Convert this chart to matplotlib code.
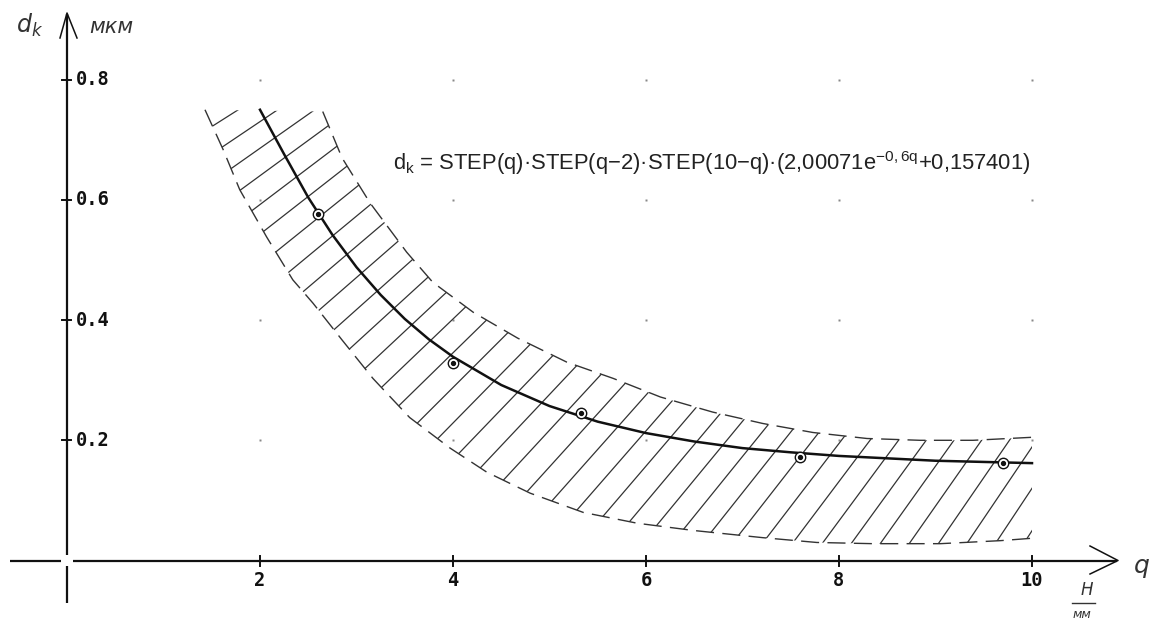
import numpy as np
import matplotlib
matplotlib.use("Agg")
import matplotlib.pyplot as plt
from matplotlib.collections import LineCollection
from matplotlib.patches import Polygon

# ---------------- data ----------------
q_fit = [2.0, 2.25, 2.5, 2.75, 3.0, 3.25, 3.5, 3.75, 4.0, 4.5, 5.0, 5.5,
         6.0, 6.5, 7.0, 7.5, 8.0, 8.5, 9.0, 9.5, 10.0]
d_fit = [0.750, 0.676, 0.604, 0.542, 0.488, 0.442, 0.402, 0.368, 0.339, 0.292,
         0.257, 0.231, 0.212, 0.198, 0.187, 0.180, 0.174, 0.170, 0.166, 0.164, 0.162]

q_obs = [2.6, 4.0, 5.33, 7.6, 9.7]
d_obs = [0.577, 0.328, 0.246, 0.172, 0.162]

q_upper = [2.65, 2.85, 3.14, 3.52, 3.79, 4.21, 4.67, 5.18, 5.66, 6.15, 6.69,
           7.21, 7.73, 8.29, 8.84, 9.39, 10.0]
d_upper = [0.747, 0.670, 0.595, 0.513, 0.463, 0.413, 0.370, 0.330, 0.303, 0.272,
           0.247, 0.228, 0.213, 0.203, 0.200, 0.200, 0.205]

q_lower = [1.43, 1.62, 1.79, 2.07, 2.34, 2.55, 2.85, 3.17, 3.55, 3.97, 4.35,
           4.80, 5.35, 5.91, 6.49, 7.21, 7.77, 8.35, 9.05, 9.67, 10.0]
d_lower = [0.750, 0.683, 0.617, 0.538, 0.467, 0.428, 0.367, 0.303, 0.238, 0.187,
           0.147, 0.112, 0.080, 0.062, 0.050, 0.038, 0.030, 0.028, 0.028, 0.033, 0.037]

x_ticks = [2, 4, 6, 8, 10]
x_tick_labels = ["2", "4", "6", "8", "10"]
y_ticks = [0.2, 0.4, 0.6, 0.8]
y_tick_labels = ["0.2", "0.4", "0.6", "0.8"]

equation = (r"d$_\mathregular{k}$ = STEP(q)·STEP(q−2)·STEP(10−q)·"
            r"(2,00071e$^{\mathregular{-0,6q}}$+0,157401)")

# ---------------- figure ----------------
W, H, DPI = 1149, 620, 100
fig = plt.figure(figsize=(W / DPI, H / DPI), dpi=DPI)
ax = fig.add_axes([0, 0, 1, 1])
ax.set_axis_off()

# pixel <-> data mapping chosen so that the axes fill the whole image
PX0, PXU = 67.0, 96.5      # x pixel of q=0, pixels per unit
PY0, PYU = 560.5, 601.0    # y pixel of d=0, pixels per unit
ax.set_xlim(-PX0 / PXU, (W - PX0) / PXU)
ax.set_ylim((PY0 - H) / PYU, PY0 / PYU)


def px(xp, yp):
    """pixel position (from top-left) -> data coordinates"""
    return (xp - PX0) / PXU, (PY0 - yp) / PYU


ink = "#111111"
thin = "#333333"

# ---------------- axes drawn as in the sketch ----------------
x0, y0 = px(10, 560.5)
x1, _ = px(61, 560.5)
x2, _ = px(73, 560.5)
x3, _ = px(1117, 560.5)
ax.plot([x0, x1], [y0, y0], color=ink, lw=1.6, solid_capstyle="butt")
ax.plot([x2, x3], [y0, y0], color=ink, lw=1.6, solid_capstyle="butt")
a1 = px(1090, 546); a2 = px(1118, 560.5); a3 = px(1090, 574)
ax.plot([a1[0], a2[0], a3[0]], [a1[1], a2[1], a3[1]], color=ink, lw=1.1)

_, yb = px(67, 603)
_, yg1 = px(67, 566)
_, yg2 = px(67, 555)
_, yt = px(67, 14)
ax.plot([0, 0], [yb, yg1], color=ink, lw=1.6, solid_capstyle="butt")
ax.plot([0, 0], [yg2, yt], color=ink, lw=1.6, solid_capstyle="butt")
b1 = px(60, 38); b2 = px(67, 13); b3 = px(77, 38)
ax.plot([b1[0], b2[0], b3[0]], [b1[1], b2[1], b3[1]], color=ink, lw=1.1)

# ticks
tl = 5.0 / PYU
for xt in x_ticks:
    ax.plot([xt, xt], [-tl, tl], color=ink, lw=1.4)
tw = 4.5 / PXU
for ytk in y_ticks:
    ax.plot([-tw, tw], [ytk, ytk], color=ink, lw=1.4)

# tick labels
tick_font = dict(family="DejaVu Sans Mono", weight="bold", size=13.5, color=ink)
for xt, lab in zip(x_ticks, x_tick_labels):
    ax.text(xt, -11.0 / PYU, lab, ha="center", va="top", **tick_font)
for ytk, lab in zip(y_ticks, y_tick_labels):
    ax.text(8.5 / PXU, ytk, lab, ha="left", va="center", **tick_font)

# grid dots
gx, gy = np.meshgrid(x_ticks, y_ticks)
ax.plot(gx.ravel(), gy.ravel(), ls="none", marker="s", ms=1.6,
        mfc="#888888", mec="none")

# ---------------- confidence band ----------------
band_verts = np.vstack([np.column_stack([q_lower, d_lower]),
                        np.column_stack([q_upper, d_upper])[::-1]])
band = Polygon(band_verts, closed=True, fill=False, edgecolor="none",
               transform=ax.transData)
ax.add_patch(band)

dash = (0, (13, 6))
ax.plot(q_upper, d_upper, color=thin, lw=1.0, ls=dash)
ax.plot(q_lower, d_lower, color=thin, lw=1.0, ls=dash)

# hand-drawn style hatching: lines starting on the lower edge, angle turning
T = ax.transData
Tinv = T.inverted()
lo = T.transform(np.column_stack([q_lower, d_lower]))
seg_len = np.hypot(*np.diff(lo, axis=0).T)
s = np.concatenate([[0.0], np.cumsum(seg_len)])
Ltot = s[-1]
segments = []
pos = 18.0
while pos < Ltot:
    f = pos / Ltot
    p = np.array([np.interp(pos, s, lo[:, 0]), np.interp(pos, s, lo[:, 1])])
    th = np.deg2rad(30.0 + 27.0 * f ** 0.6)
    d = np.array([np.cos(th), np.sin(th)])
    seg = np.vstack([p - 3 * d, p + 400 * d])
    segments.append(Tinv.transform(seg))
    pos += 23.0 + 7.0 * f
lc = LineCollection(segments, colors=thin, linewidths=0.9)
ax.add_collection(lc)
lc.set_clip_path(band)

# ---------------- fitted curve and measured points ----------------
ax.plot(q_fit, d_fit, color=ink, lw=1.8)
ax.plot(q_obs, d_obs, ls="none", marker="o", ms=7.5, mfc="white", mec=ink, mew=1.0)
ax.plot(q_obs, d_obs, ls="none", marker="o", ms=2.8, mfc=ink, mec=ink)

# ---------------- texts ----------------
eq_font = ["Liberation Sans", "DejaVu Sans"]
ax.text(*px(393, 163), equation, ha="left", va="center", fontsize=15.8,
        family=eq_font, color="#222222")

lab_font = dict(family="DejaVu Sans", style="italic", color="#333333")
ax.text(*px(30, 25), r"d$_\mathregular{k}$", ha="center", va="center",
        fontsize=17, **lab_font)
ax.text(*px(111, 27), "мкм", ha="center", va="center", fontsize=15, **lab_font)
ax.text(*px(1142, 566), "q", ha="center", va="center", fontsize=18, **lab_font)
ax.text(*px(1087, 590), "Н", ha="center", va="center", fontsize=12, **lab_font)
l1 = px(1072, 603); l2 = px(1095, 603)
ax.plot([l1[0], l2[0]], [l1[1], l2[1]], color="#333333", lw=1.0)
ax.text(*px(1082, 615), "мм", ha="center", va="center", fontsize=9, **lab_font)

fig.savefig("out.png", dpi=DPI, facecolor="white")
